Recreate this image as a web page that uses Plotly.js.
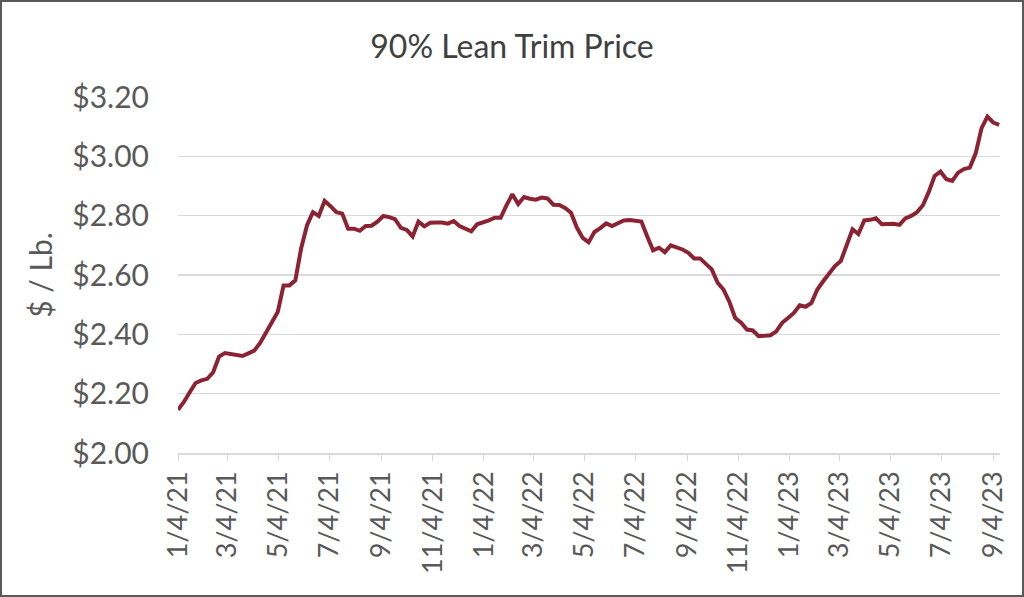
<!DOCTYPE html>
<html>
<head>
<meta charset="utf-8">
<script src="https://cdn.plot.ly/plotly-3.0.1.min.js"></script>
<style>
  html, body { margin: 0; padding: 0; background: #fff; }
  #chart { width: 1020px; height: 593px; border: 2px solid #595959; }
</style>
</head>
<body>
<div id="chart"></div>
<script>
// weekly series, first week 1/4/21
const startDate = '2021-01-04';
const weekMs = 7 * 24 * 3600 * 1000;

const prices = [
  2.146, 2.172, 2.205, 2.236, 2.245, 2.250, 2.272, 2.325, 2.337, 2.333,
  2.329, 2.327, 2.336, 2.345, 2.371, 2.405, 2.440, 2.475, 2.565, 2.565,
  2.582, 2.690, 2.768, 2.812, 2.799, 2.850, 2.832, 2.812, 2.807, 2.756,
  2.756, 2.749, 2.765, 2.766, 2.780, 2.799, 2.795, 2.788, 2.759, 2.752,
  2.730, 2.780, 2.764, 2.776, 2.777, 2.777, 2.773, 2.782, 2.765, 2.756,
  2.747, 2.771, 2.777, 2.784, 2.793, 2.793, 2.835, 2.872, 2.839, 2.863,
  2.857, 2.854, 2.861, 2.858, 2.837, 2.836, 2.826, 2.810, 2.760, 2.725,
  2.710, 2.745, 2.758, 2.774, 2.765, 2.776, 2.784, 2.785, 2.781, 2.780,
  2.730, 2.683, 2.692, 2.677, 2.700, 2.693, 2.686, 2.675, 2.656, 2.656,
  2.636, 2.619, 2.574, 2.551, 2.510, 2.455, 2.439, 2.416, 2.413, 2.394,
  2.395, 2.397, 2.410, 2.439, 2.455, 2.472, 2.498, 2.493, 2.506, 2.551,
  2.579, 2.605, 2.630, 2.647, 2.700, 2.754, 2.738, 2.784, 2.786, 2.791,
  2.771, 2.772, 2.773, 2.769, 2.791, 2.799, 2.812, 2.835, 2.880, 2.934,
  2.949, 2.923, 2.917, 2.945, 2.957, 2.962, 3.010, 3.095, 3.134, 3.114,
  3.106
];

const xRange = ['2021-01-04', '2023-09-12'];
const yTicks = [2.0, 2.2, 2.4, 2.6, 2.8, 3.0, 3.2];

const font = 'Lato, "Open Sans", sans-serif';
const textColor = '#595959';

const trace = {
  type: 'scatter',
  mode: 'lines',
  x0: startDate,
  dx: weekMs,
  y: prices,
  line: { color: '#8b2332', width: 4 },
  hoverinfo: 'x+y'
};

const layout = {
  width: 1020,
  height: 593,
  margin: { l: 176, r: 22, t: 95, b: 142 },
  paper_bgcolor: '#fff',
  plot_bgcolor: '#fff',
  showlegend: false,
  font: { family: font, color: textColor },
  title: {
    text: '90% Lean Trim Price',
    font: { family: font, size: 32, color: '#404040' },
    x: 0.5,
    xanchor: 'center',
    y: 0.925,
    yanchor: 'middle'
  },
  xaxis: {
    type: 'date',
    range: xRange,
    tick0: startDate,
    dtick: 'M2',
    tickformat: '%-m/%-d/%y',
    tickangle: -90,
    tickfont: { family: font, size: 27, color: textColor },
    showgrid: false,
    showline: true,
    linecolor: '#d9d9d9',
    linewidth: 1.5,
    ticks: 'outside',
    ticklen: 6,
    tickcolor: '#d9d9d9',
    zeroline: false
  },
  yaxis: {
    range: [2.0, 3.2],
    tickvals: yTicks,
    tickformat: '$.2f',
    tickfont: { family: font, size: 30, color: textColor },
    ticks: '',
    ticklabelstandoff: 28,
    showgrid: true,
    gridcolor: '#d9d9d9',
    gridwidth: 1.5,
    zeroline: false,
    showline: false,
    title: {
      text: '$ / Lb.',
      font: { family: font, size: 30, color: textColor },
      standoff: 10
    }
  }
};

Plotly.newPlot('chart', [trace], layout, { displayModeBar: false, staticPlot: true });
</script>
</body>
</html>
